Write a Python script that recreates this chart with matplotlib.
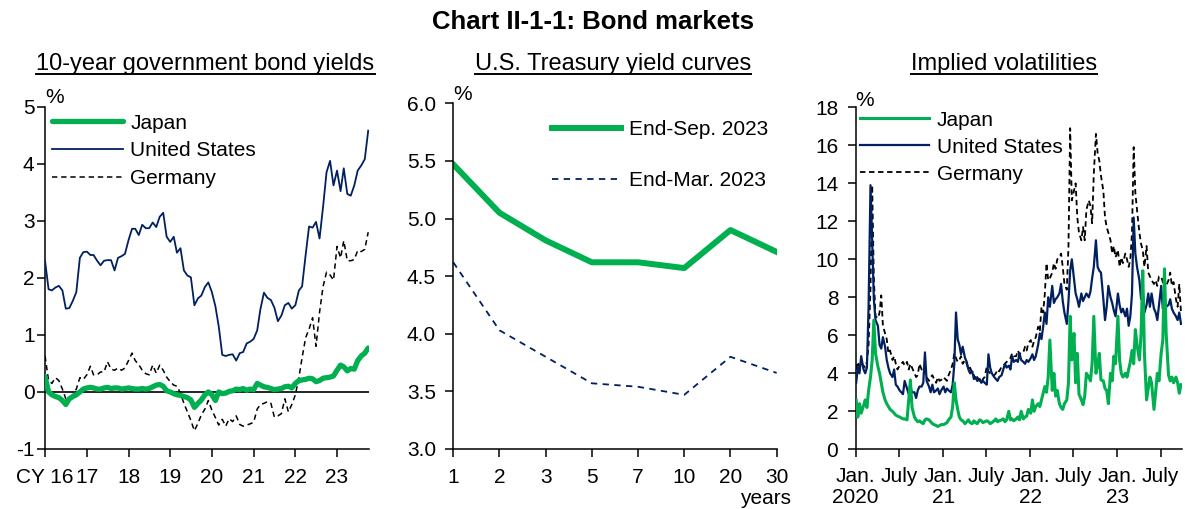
import pandas as pd
import matplotlib
matplotlib.use('Agg')
import matplotlib.pyplot as plt
from matplotlib.lines import Line2D

plt.rcParams['font.family'] = ['Liberation Sans', 'DejaVu Sans']
plt.rcParams['font.size'] = 15
plt.rcParams['axes.unicode_minus'] = False

GREEN = '#00B050'
NAVY = '#002060'

# ---- 10-year government bond yields, monthly Jan 2016 - Oct 2023 (%)
yield_months = pd.date_range('2016-01-01', periods=94, freq='MS')
jp_10y = [0.27, 0.00, -0.05, -0.08, -0.10, -0.15, -0.22, -0.12, -0.08, -0.05, 0.00, 0.05,
          0.07, 0.08, 0.07, 0.05, 0.05, 0.07, 0.08, 0.06, 0.07, 0.07, 0.05, 0.06,
          0.07, 0.06, 0.05, 0.05, 0.06, 0.05, 0.06, 0.09, 0.12, 0.13, 0.10, 0.02,
          0.00, -0.03, -0.05, -0.06, -0.08, -0.10, -0.14, -0.27, -0.20, -0.14, -0.05, 0.00,
          -0.05, -0.15, 0.00, -0.03, -0.02, 0.01, 0.02, 0.05, 0.04, 0.06, 0.03, 0.05,
          0.04, 0.15, 0.12, 0.09, 0.08, 0.06, 0.04, 0.05, 0.06, 0.09, 0.10, 0.07,
          0.15, 0.20, 0.21, 0.22, 0.24, 0.23, 0.18, 0.20, 0.24, 0.25, 0.26, 0.28,
          0.38, 0.47, 0.44, 0.37, 0.41, 0.40, 0.55, 0.63, 0.68, 0.77]
us_10y = [2.30, 1.80, 1.78, 1.83, 1.86, 1.78, 1.46, 1.47, 1.60, 1.75, 2.35, 2.45,
          2.46, 2.40, 2.40, 2.30, 2.22, 2.30, 2.31, 2.31, 2.13, 2.35, 2.38, 2.42,
          2.66, 2.86, 2.86, 2.75, 2.93, 2.87, 2.87, 2.97, 2.89, 3.07, 3.14, 2.72,
          2.63, 2.72, 2.44, 2.52, 2.13, 2.04, 2.01, 1.52, 1.64, 1.69, 1.84, 1.92,
          1.75, 1.50, 1.15, 0.65, 0.63, 0.65, 0.66, 0.55, 0.68, 0.70, 0.85, 0.88,
          0.93, 1.08, 1.45, 1.74, 1.65, 1.61, 1.48, 1.24, 1.34, 1.52, 1.56, 1.46,
          1.52, 1.78, 1.85, 2.40, 2.90, 2.88, 2.98, 2.69, 3.25, 3.85, 4.05, 3.62,
          3.88, 3.52, 3.92, 3.47, 3.44, 3.62, 3.88, 3.97, 4.08, 4.58]
de_10y = [0.63, 0.20, 0.15, 0.25, 0.20, 0.05, -0.12, -0.10, -0.05, 0.05, 0.25, 0.22,
          0.30, 0.45, 0.30, 0.30, 0.35, 0.35, 0.53, 0.40, 0.38, 0.42, 0.38, 0.42,
          0.55, 0.68, 0.55, 0.48, 0.38, 0.32, 0.30, 0.47, 0.33, 0.47, 0.38, 0.26,
          0.18, 0.12, 0.10, -0.02, -0.20, -0.35, -0.50, -0.68, -0.55, -0.40, -0.30, -0.15,
          -0.32, -0.45, -0.58, -0.48, -0.60, -0.47, -0.52, -0.42, -0.57, -0.60, -0.58, -0.56,
          -0.53, -0.30, -0.22, -0.20, -0.17, -0.20, -0.44, -0.42, -0.38, -0.12, -0.35, -0.22,
          -0.05, 0.25, 0.60, 0.95, 1.10, 1.30, 0.80, 1.40, 1.85, 2.10, 2.05, 1.96,
          2.55, 2.35, 2.65, 2.30, 2.30, 2.32, 2.48, 2.46, 2.50, 2.80]
yield_years = ['CY 16', '17', '18', '19', '20', '21', '22', '23']

# ---- U.S. Treasury yield curves (%)
maturities = ['1', '2', '3', '5', '7', '10', '20', '30']
curve_sep23 = [5.47, 5.05, 4.81, 4.62, 4.62, 4.57, 4.90, 4.71]
curve_mar23 = [4.62, 4.03, 3.80, 3.57, 3.54, 3.47, 3.80, 3.66]

# ---- Implied volatilities, four readings a month Jan 2020 - Sep 2023 (%)
vol_months = pd.date_range('2020-01-01', '2023-09-01', freq='MS')
vol_days = [3, 10, 17, 24]
jp_vol = [2.6, 1.7, 2.4, 1.9,  2.3, 2.6, 2.2, 3.1,  3.8, 4.7, 6.8, 5.05,  4.35, 4.0, 3.5, 3.0,
          2.6, 2.4, 2.25, 2.1,  2.0, 1.9, 1.8, 1.75,  1.7, 1.65, 1.6, 1.6,  1.55, 2.6, 3.65, 2.2,
          1.7, 1.55, 1.45, 1.5,  1.4, 1.35, 1.55, 1.6,  1.55, 1.45, 1.35, 1.3,  1.25, 1.2, 1.25, 1.3,
          # 2021
          1.3, 1.35, 1.4, 1.55,  1.7, 2.25, 3.5, 2.6,  2.1, 1.7, 1.55, 1.5,  1.35, 1.45, 1.55, 1.4,
          1.35, 1.5, 1.4, 1.35,  1.55, 1.5, 1.4, 1.45,  1.5, 1.45, 1.35, 1.4,  1.5, 1.6, 1.45, 1.5,
          1.55, 1.6, 1.45, 1.55,  2.0, 1.55, 1.6, 1.5,  1.6, 1.7, 1.55, 2.0,  1.6, 1.7, 1.75, 2.1,
          # 2022
          1.9, 2.6, 2.0, 2.25,  2.4, 2.25, 2.6, 2.95,  3.3, 3.0, 3.8, 5.75,  3.1, 4.0, 2.8, 3.1,
          2.4, 2.2, 2.1, 2.4,  2.6, 3.5, 7.0, 4.7,  6.1, 3.5, 5.05, 2.9,  2.6, 2.35, 2.8, 4.0,
          3.8, 3.6, 4.5, 7.0,  4.0, 4.4, 5.05, 3.65,  3.6, 3.2, 3.1, 2.4,  4.0, 3.6, 4.9, 4.5,
          # 2023
          7.0, 4.7, 4.0, 3.8,  4.0, 3.8, 4.2, 4.6,  5.2, 4.5, 6.3, 5.5,  4.7, 6.1, 9.4, 5.05,
          2.6, 3.2, 3.8, 3.5,  2.1, 3.0, 4.0, 3.6,  5.05, 5.75, 9.5, 6.1,  3.9, 3.6, 3.8, 3.5,
          3.8, 3.5, 2.95, 3.4]
us_vol = [3.5, 4.3, 4.0, 4.9,  4.2, 4.0, 4.3, 7.5,  13.9, 11.0, 7.9, 6.8,  6.5, 5.5, 5.3, 5.9,
          5.4, 4.7, 4.3, 4.0,  3.8, 4.2, 3.4, 3.3,  3.1, 3.0, 2.9, 3.6,  3.2, 2.9, 3.3, 3.0,
          3.0, 2.7, 3.1, 3.3,  3.3, 3.5, 5.1, 3.6,  3.3, 3.0, 3.4, 3.0,  3.1, 3.2, 2.9, 3.1,
          # 2021
          3.3, 3.0, 3.2, 3.1,  3.0, 3.4, 4.5, 7.2,  5.8, 5.5, 5.0, 5.4,  4.8, 4.6, 4.2, 4.0,
          4.1, 3.7, 3.8, 3.6,  3.7, 3.5, 3.6, 3.5,  3.4, 5.0, 4.3, 4.0,  3.8, 3.7, 3.6, 3.8,
          3.9, 4.2, 4.5, 4.3,  4.4, 4.2, 4.9, 4.6,  4.7, 4.6, 5.05, 4.7,  4.6, 4.5, 4.7, 4.6,
          # 2022
          4.8, 5.0, 4.7, 4.9,  5.5, 6.1, 5.8, 6.45,  7.2, 6.6, 8.0, 7.5,  8.6, 7.7, 7.9, 8.0,
          8.2, 8.7, 7.8, 7.2,  6.6, 7.8, 9.4, 10.0,  9.0, 8.2, 7.9, 7.5,  8.2, 7.8, 8.0, 8.2,
          8.0, 8.3, 9.0, 9.6,  11.0, 9.6, 9.4, 9.3,  7.9, 6.8, 7.5, 8.6,  8.0, 7.7, 7.3, 7.0,
          # 2023
          8.2, 7.6, 7.2, 7.4,  7.0, 7.4, 6.5, 7.0,  8.2, 12.2, 10.3, 9.6,  8.9, 7.9, 8.4, 7.2,
          7.6, 8.2, 7.5, 8.2,  7.4, 7.2, 6.8, 7.6,  8.6, 7.4, 7.9, 7.5,  7.6, 7.9, 7.4, 7.2,
          7.0, 6.8, 7.2, 6.6]
de_vol = [4.2, 4.6, 4.3, 4.5,  4.4, 4.3, 4.6, 5.5,  8.5, 13.9, 9.0, 7.0,  6.9, 7.2, 8.1, 6.5,
          6.1, 5.8, 5.05, 5.2,  4.7, 4.9, 4.5, 4.2,  4.4, 4.5, 4.6, 4.4,  4.6, 4.2, 4.5, 4.3,
          4.0, 3.8, 3.9, 4.5,  4.2, 4.3, 3.9, 3.8,  3.6, 3.8, 3.9, 3.7,  3.5, 3.8, 3.6, 3.65,
          # 2021
          3.8, 3.7, 3.6, 3.9,  4.2, 4.5, 5.05, 4.8,  4.6, 4.7, 4.9, 4.5,  4.7, 4.5, 4.2, 4.3,
          4.0, 3.9, 3.65, 3.8,  3.6, 3.5, 3.7, 3.8,  4.35, 4.1, 4.0, 3.9,  3.9, 4.0, 4.2, 4.1,
          4.35, 4.4, 4.5, 4.6,  4.7, 4.8, 5.05, 4.9,  4.9, 5.2, 5.0, 5.1,  5.1, 5.4, 5.2, 5.6,
          # 2022
          5.75, 5.4, 5.7, 5.9,  6.45, 6.2, 7.5, 7.2,  8.2, 9.8, 8.9, 9.0,  9.3, 9.8, 9.5, 10.0,
          10.1, 10.3, 9.6, 8.7,  8.4, 10.7, 16.9, 13.1,  13.6, 14.0, 12.2, 11.4,  11.0, 11.7, 11.0, 12.6,
          13.1, 12.8, 11.9, 14.5,  16.6, 15.6, 15.2, 14.4,  13.6, 12.2, 11.7, 11.4,  11.0, 10.3, 10.7, 10.1,
          # 2023
          10.5, 9.6, 10.1, 9.8,  10.3, 10.0, 9.6, 10.0,  11.4, 15.9, 13.5, 12.6,  11.4, 10.8, 10.5, 9.6,
          10.7, 9.3, 9.1, 8.9,  8.7, 8.9, 8.6, 9.1,  9.1, 8.8, 8.4, 8.6,  8.9, 9.3, 8.6, 8.8,
          7.9, 7.5, 8.7, 7.2]
vol_tick_labels = ['Jan.\n2020', 'July', 'Jan.\n21', 'July', 'Jan.\n22', 'July', 'Jan.\n23', 'July']

vol_dates = [m + pd.Timedelta(days=d - 1) for m in vol_months for d in vol_days]

fig = plt.figure(figsize=(11.85, 5.09), dpi=100)
ax1 = fig.add_axes([0.0380, 0.1179, 0.2734, 0.6725])
ax2 = fig.add_axes([0.3825, 0.1179, 0.2729, 0.6792])
ax3 = fig.add_axes([0.7221, 0.1173, 0.2751, 0.6719])

for ax in (ax1, ax2, ax3):
    for s in ('top', 'right'):
        ax.spines[s].set_visible(False)
    for s in ('left', 'bottom'):
        ax.spines[s].set_linewidth(1.1)
    ax.tick_params(direction='out', length=5.5, width=1.1, labelsize=15)
    ax.tick_params(axis='x', pad=8)

# ---- left: 10-year yields
ax1.axhline(0, color='black', lw=1.2, zorder=1)
de1, = ax1.plot(yield_months, de_10y, color='black', lw=1.1, dashes=(3.5, 2.5), label='Germany', zorder=2)
us1, = ax1.plot(yield_months, us_10y, color=NAVY, lw=1.3, label='United States', zorder=3)
jp1, = ax1.plot(yield_months, jp_10y, color=GREEN, lw=3.8, solid_capstyle='round', label='Japan', zorder=4)
ax1.set_ylim(-1, 5)
ax1.set_yticks(range(-1, 6))
ax1.set_xlim(pd.Timestamp('2016-01-01'), pd.Timestamp('2023-10-08'))
ax1.set_xticks(pd.date_range('2016-01-01', '2023-01-01', freq='YS'))
ax1.set_xticklabels(yield_years)
ax1.tick_params(axis='y', pad=2)
ax1.text(0.0, 1.028, '%', transform=ax1.transAxes, ha='left', va='center', fontsize=15)
ax1.legend(handles=[jp1, us1, de1], loc='upper left', bbox_to_anchor=(0.022, 0.98),
           frameon=False, handlelength=3.4, handletextpad=0.35, labelspacing=0.42,
           borderpad=0, borderaxespad=0, fontsize=15)

# ---- middle: yield curves
pos = range(len(maturities))
sep, = ax2.plot(pos, curve_sep23, color=GREEN, lw=4.3, label='End-Sep. 2023')
mar, = ax2.plot(pos, curve_mar23, color=NAVY, lw=1.3, dashes=(3.5, 3), label='End-Mar. 2023')
ax2.set_xlim(0, 7)
ax2.set_xticks(list(pos))
ax2.set_xticklabels(maturities)
ax2.set_ylim(3.0, 6.0)
ax2.set_yticks([3.0, 3.5, 4.0, 4.5, 5.0, 5.5, 6.0])
ax2.set_yticklabels(['3.0', '3.5', '4.0', '4.5', '5.0', '5.5', '6.0'])
ax2.tick_params(axis='y', pad=7)
ax2.text(0.0, 1.024, '%', transform=ax2.transAxes, ha='left', va='center', fontsize=15)
ax2.legend(handles=[sep, mar], loc='upper left', bbox_to_anchor=(0.305, 0.952),
           frameon=False, handlelength=3.3, handletextpad=0.4, labelspacing=1.55,
           borderpad=0, borderaxespad=0, fontsize=15)
fig.text(791 / 1185, 1 - 498 / 509, 'years', ha='right', va='center', fontsize=15)

# ---- right: implied volatilities
de3, = ax3.plot(vol_dates, de_vol, color='black', lw=1.3, dashes=(3, 2), label='Germany', zorder=2)
us3, = ax3.plot(vol_dates, us_vol, color=NAVY, lw=1.6, label='United States', zorder=3)
jp3, = ax3.plot(vol_dates, jp_vol, color=GREEN, lw=2.2, label='Japan', zorder=4)
ax3.set_ylim(0, 18)
ax3.set_yticks(range(0, 19, 2))
ax3.set_xlim(pd.Timestamp('2020-01-01'), pd.Timestamp('2023-09-27'))
ax3.set_xticks(pd.date_range('2020-01-01', '2023-07-01', freq='6MS'))
ax3.set_xticklabels(vol_tick_labels)
for t in ax3.get_xticklabels():
    t.set_linespacing(1.15)
ax3.tick_params(axis='x', pad=7)
ax3.tick_params(axis='y', pad=7)
ax3.text(0.0, 1.02, '%', transform=ax3.transAxes, ha='left', va='center', fontsize=15)
ax3.legend(handles=[jp3, us3, de3], loc='upper left', bbox_to_anchor=(0.013, 0.99),
           frameon=False, handlelength=3.3, handletextpad=0.4, labelspacing=0.38,
           borderpad=0, borderaxespad=0, fontsize=15)

# ---- titles
fig.text(0.5, 1 - 22 / 509, 'Chart II-1-1: Bond markets', ha='center', va='center',
         fontsize=18.5, fontweight='bold')
subtitles = []
for xc, txt in [(205.5, '10-year government bond yields'),
                (613, 'U.S. Treasury yield curves'),
                (1004, 'Implied volatilities')]:
    subtitles.append(fig.text(xc / 1185, 1 - 70 / 509, txt, ha='center', va='baseline', fontsize=17))

fig.canvas.draw()
r = fig.canvas.get_renderer()
for t in subtitles:
    bb = t.get_window_extent(r)
    y = 509 - 74
    fig.add_artist(Line2D([bb.x0, bb.x1], [y, y], transform=None, color='black', lw=1.4))

fig.savefig('out.png', dpi=100)
